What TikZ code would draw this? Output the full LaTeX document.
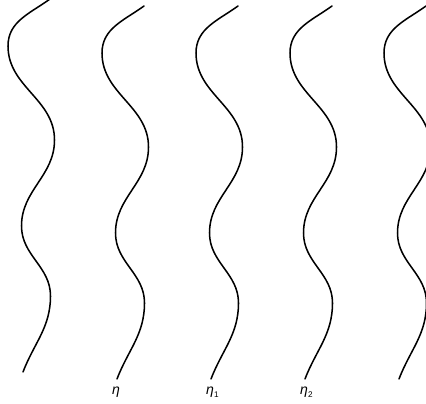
\documentclass[tikz,border=0pt]{standalone}
\usepackage{fontspec}
\setmainfont{Liberation Sans}
\usetikzlibrary{positioning,calc}

\tikzset{
  wave/.style={line width=1.3pt, line cap=round},
  lbl/.style={inner sep=0pt, font=\fontsize{12}{14}\selectfont\itshape}
}
\newcommand{\sub}[1]{\raisebox{-2.5pt}{\upshape\scriptsize #1}}

\begin{document}
\begin{tikzpicture}[x=0.03cm, y=0.03cm]

% Frame of the picture (pixel units, y going down as negative)
\useasboundingbox (0,0) rectangle (426,-404);
\clip (0,0) rectangle (426,-404);

% Five wavy strands, one every 94 units
\foreach \i in {1,...,5} {
  \pgfmathsetmacro{\xt}{50+94*(\i-1)}
  \pgfmathsetmacro{\yt}{ifthenelse(\i==1,1,-6)}
  \coordinate (T\i) at (\xt,\yt);            % top end
  \coordinate (A\i) at ($(T\i)+(-42,-47)$);  % first left turn
  \coordinate (B\i) at ($(T\i)+(4.5,-141)$); % first right turn
  \coordinate (C\i) at ($(T\i)+(-28.5,-227)$); % second left turn
  \coordinate (D\i) at ($(T\i)+(0.5,-297)$); % second right turn
  \coordinate (E\i) at ($(T\i)+(-27,-373)$); % bottom end
  \draw[wave] (T\i) to[out=216,in=90] (A\i)
                    to[out=-90,in=90] (B\i)
                    to[out=-90,in=90] (C\i)
                    to[out=-90,in=90] (D\i)
                    to[out=-90,in=69] (E\i);
}

% Labels under the middle strands
\node[lbl, below right=7pt and -4.3pt] (eta) at (E2) {η};
\node[lbl, below right=7pt and -4.3pt] (eta1) at (E3) {η\sub{1}};
\node[lbl, below right=7pt and -4.3pt] (eta2) at (E4) {η\sub{2}};

\end{tikzpicture}
\end{document}
